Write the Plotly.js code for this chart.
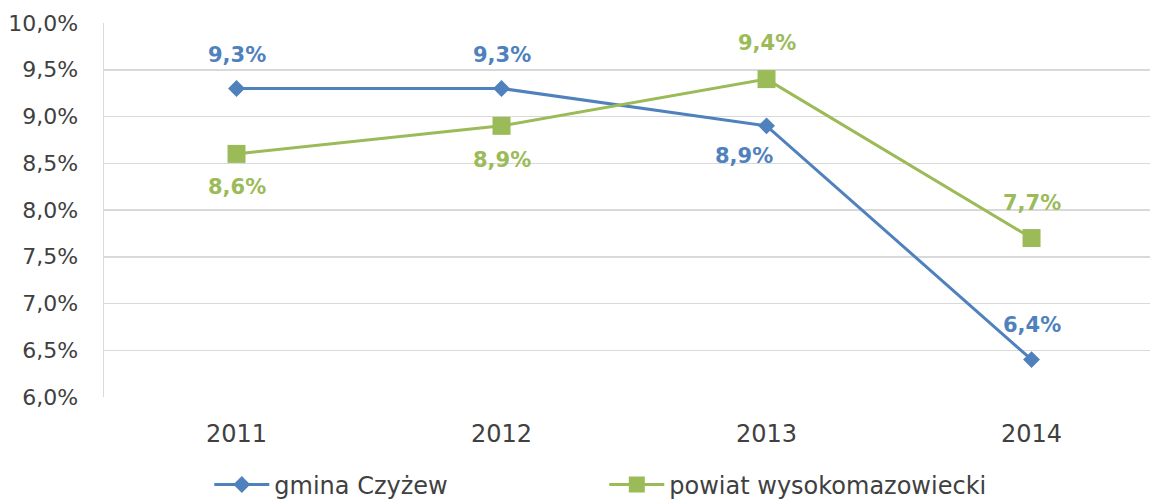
<!DOCTYPE html>
<html>
<head>
<meta charset="utf-8">
<script src="https://cdn.plot.ly/plotly-3.0.1.min.js"></script>
<style>
  html, body { margin: 0; padding: 0; background: #ffffff; }
  #chart { width: 1150px; height: 503px; }
</style>
</head>
<body>
<div id="chart"></div>
<script>
// ---- data ----
const years = ['2011', '2012', '2013', '2014'];
const gminaName = 'gmina Czyżew';
const gminaValues = [0.093, 0.093, 0.089, 0.064];
const powiatName = 'powiat wysokomazowiecki';
const powiatValues = [0.086, 0.089, 0.094, 0.077];
const yTickVals = [0.06, 0.065, 0.07, 0.075, 0.08, 0.085, 0.09, 0.095, 0.10];

// ---- styles ----
const BLUE = '#4f81bd';
const GREEN = '#9bbb59';
const FONT = '"DejaVu Sans", sans-serif';
// label placement per point: [yshift, xshift]
const gminaLabelShift = [[33, 0], [33, 0], [-30, -23], [35, 0]];
const powiatLabelShift = [[-33, 0], [-34, 0], [36, 0], [35, 0]];

const traces = [
  {
    x: years, y: gminaValues, name: gminaName, type: 'scatter', mode: 'lines+markers',
    line: { color: BLUE, width: 3 },
    marker: { symbol: 'diamond', size: 13, color: BLUE },
    hoverinfo: 'none'
  },
  {
    x: years, y: powiatValues, name: powiatName, type: 'scatter', mode: 'lines+markers',
    line: { color: GREEN, width: 3 },
    marker: { symbol: 'square', size: 18, color: GREEN },
    hoverinfo: 'none'
  }
];

function fmt(v) {
  return (v * 100).toFixed(1).replace('.', ',') + '%';
}

const annotations = [];
years.forEach((yr, i) => {
  annotations.push({
    xref: 'x', yref: 'y',
    x: i, y: gminaValues[i], text: '<b>' + fmt(gminaValues[i]) + '</b>', showarrow: false,
    yshift: gminaLabelShift[i][0], xshift: gminaLabelShift[i][1],
    font: { family: FONT, size: 21, color: BLUE }
  });
  annotations.push({
    xref: 'x', yref: 'y',
    x: i, y: powiatValues[i], text: '<b>' + fmt(powiatValues[i]) + '</b>', showarrow: false,
    yshift: powiatLabelShift[i][0], xshift: powiatLabelShift[i][1],
    font: { family: FONT, size: 21, color: GREEN }
  });
});

const layout = {
  width: 1150, height: 503,
  margin: { l: 104, r: 0, t: 23, b: 106, autoexpand: false },
  paper_bgcolor: '#ffffff', plot_bgcolor: '#ffffff',
  separators: ',.',
  font: { family: FONT, size: 22, color: '#404040' },
  showlegend: true,
  legend: {
    orientation: 'h', xref: 'container', yref: 'container',
    x: 0.182, xanchor: 'left', y: 0.036, yanchor: 'middle',
    entrywidth: 325, entrywidthmode: 'pixels',
    font: { family: FONT, size: 24, color: '#404040' },
    itemwidth: 55
  },
  xaxis: {
    type: 'category', range: [-0.5, 3.447], automargin: false,
    showgrid: false, zeroline: false, showline: false,
    ticks: '', ticklabelstandoff: 20,
    tickfont: { family: FONT, size: 24, color: '#404040' }
  },
  yaxis: {
    range: [0.06, 0.10], tickvals: yTickVals, tickformat: '.1%', automargin: false,
    showgrid: true, gridcolor: '#d9d9d9', gridwidth: 1.5,
    zeroline: false, showline: true, linecolor: '#d9d9d9', linewidth: 1.5,
    ticks: '', ticklabelstandoff: 20,
    tickfont: { family: FONT, size: 22, color: '#404040' }
  },
  annotations: annotations
};

Plotly.newPlot('chart', traces, layout, { displayModeBar: false, staticPlot: true });
</script>
</body>
</html>
